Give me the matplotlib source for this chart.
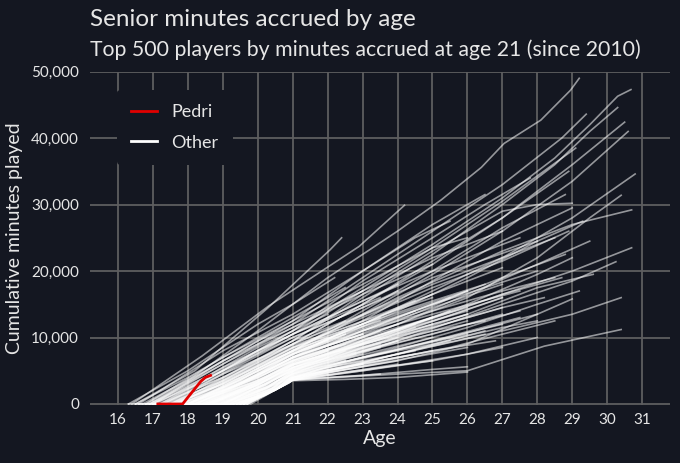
import matplotlib
matplotlib.use("Agg")
import matplotlib.pyplot as plt
from matplotlib.lines import Line2D

# ---------------- data (minutes in thousands) ----------------
pedri_ages = [17.14, 17.85, 18.0, 18.37, 18.5, 18.65]
pedri_minutes_k = [0, 0, 1.0, 3.4, 4.0, 4.3]

other_ages = [
    [16.8, 18, 20, 22, 24, 25.25, 26.4, 27.05, 28.1, 28.95, 29.2],
    [16.5, 18.2, 20.3, 22.07, 22.4],
    [16.4, 18.4, 20.3, 22.9, 24.2],
    [17.2, 19, 21, 23, 25, 27, 28.5, 29.5, 30.3, 30.68],
    [17.5, 19.5, 21, 23, 25, 27, 28.5, 29.5, 30.3],
    [17.3, 19, 21, 23, 25, 27, 29, 30.5],
    [17.8, 19.5, 21, 23, 25, 27, 29, 30.6],
    [18, 21, 23, 25, 27, 29, 30.8],
    [18.3, 21, 24, 26, 28, 29.5, 30.4],
    [17.6, 21, 24, 27, 29, 30.7],
    [18.5, 21, 24, 27, 29, 30.7],
    [19, 21, 24, 27, 29, 30.25],
    [19.2, 21, 24, 27, 29, 30.4],
    [19.6, 21, 24, 26, 28.2, 30.4],
    [17, 19, 21, 23, 25, 27, 28.7, 29.4],
    [17.4, 21, 23, 25, 27, 29.1],
    [17.7, 21, 23, 25, 27, 28.9],
    [17.2, 21, 23, 25, 26.5, 27.8],
    [18, 21, 23, 25, 27, 28.8],
    [16.9, 21, 23, 25, 26.5],
    [17.6, 21, 23, 25, 27, 28, 29],
    [18.2, 21, 23, 25, 27, 29],
    [18.4, 21, 24, 26, 28, 29.3],
    [18.7, 21, 24, 26, 28, 29.5],
    [19, 21, 24, 26, 28, 29.6],
    [19.3, 21, 24, 26, 28, 29.2],
    [19.5, 21, 24, 26, 28, 29],
    [18.9, 21, 24, 26, 28, 29],
    [16.6, 19, 21, 23, 24.5, 25.5],
    [16.8, 19, 21, 23, 25, 26],
    [17, 19, 21, 23, 25, 27],
    [17.1, 19, 21, 23, 25, 27.5],
    [17.3, 19, 21, 23, 25, 28],
    [17.5, 19, 21, 23, 25, 27, 28.5],
    [17.8, 19.5, 21, 23, 25, 27],
    [18, 19.5, 21, 23, 25, 26.5],
    [18.1, 21, 23, 25, 27, 28.5],
    [18.3, 21, 23, 25, 27.5],
    [18.5, 21, 23, 25, 26],
    [18.6, 21, 23, 25, 27, 28.2],
    [18.8, 21, 23, 25, 26.5],
    [19, 21, 23, 25, 27],
    [19.2, 21, 23, 25, 27, 28],
    [19.4, 21, 23, 25, 26.8],
    [19.6, 21, 23, 25, 27],
    [19.7, 21, 22.5, 24, 26],
    [19.5, 21, 23, 25, 26],
    [16.3, 18, 20, 21, 22.2],
    [16.5, 18, 20, 21, 22.5],
    [16.7, 18.5, 20, 21, 23],
    [16.9, 18.5, 20, 21, 22],
    [17, 18.5, 20, 21, 23.5],
    [17.2, 19, 21, 22.5],
    [17.4, 19, 21, 24],
    [17.5, 19, 21, 23],
    [17.6, 19.5, 21, 22],
    [17.8, 19.5, 21, 24.5],
    [17.9, 19.5, 21, 23],
    [18, 20, 21, 22.5],
    [18.1, 20, 21, 25],
    [18.2, 20, 21, 23],
    [18.4, 20, 21, 22],
    [18.5, 20, 21, 24],
    [18.6, 20, 21, 23],
    [18.8, 20.2, 21, 22.5],
    [19, 20.2, 21, 24.5],
    [19.1, 20.3, 21, 23],
    [19.3, 20.4, 21, 22],
    [19.5, 20.5, 21, 25],
    [19.7, 20.6, 21, 23.5],
    [17.3, 19, 21, 23, 24],
    [16.9, 19, 21, 23, 25],
    [17, 19, 21, 24],
    [18.2, 20, 21, 24, 26],
    [18, 20, 21, 25],
    [18.6, 20, 21, 24, 26],
    [19, 21, 23, 25, 27],
    [18.7, 21, 23, 25, 27, 28.7],
    [18.4, 21, 23, 25, 27, 28.8],
    [17.7, 21, 23, 25, 27, 28.9],
    # dense core
    [18.0, 19.6, 21, 23, 24.5],
    [18.2, 19.8, 21, 22.5, 25.5],
    [18.4, 20, 21, 23.5],
    [18.5, 20, 21, 22, 24, 26],
    [18.6, 20.2, 21, 23],
    [18.7, 20.2, 21, 24, 27],
    [18.8, 20.3, 21, 22.5],
    [18.9, 20.3, 21, 23, 25],
    [16.3, 19.0, 20.4, 21, 24],
    [19.1, 20.4, 21, 22, 26],
    [19.2, 20.5, 21, 23.5],
    [16.6, 19.3, 20.5, 21, 25, 27.5],
    [19.4, 20.6, 21, 22.5],
    [19.5, 20.6, 21, 24, 26.5],
    [19.6, 20.7, 21, 23],
    [17.0, 19.7, 20.7, 21, 25],
    [17.3, 19.8, 20.8, 21, 22.2, 24],
    [16.5, 19.7, 20.8, 21, 23, 26, 28],
    [19.5, 20.6, 21, 22.5, 25.5],
    [17.6, 19.3, 20.5, 21, 23, 27],
    [19.0, 20.3, 21, 22, 24.5],
    [18.8, 20.2, 21, 23, 26],
    [18.6, 20, 21, 22.5, 25],
    [18.4, 19.8, 21, 24],
    [18.2, 19.7, 21, 23, 27],
    [18.0, 19.5, 21, 22.5],
    [17.8, 19.5, 21, 24, 26],
    [17.9, 19.6, 21, 23],
    [18.3, 19.9, 21, 22],
    [18.9, 20.1, 21, 23.5, 27.5],
    [19.1, 20.2, 21, 22.8],
    [19.4, 20.5, 21, 24.5],
    [16.8, 19.6, 20.6, 21, 22.5, 26],
    [17.2, 19.2, 20.4, 21, 25.5, 28],
    [18.7, 20, 21, 23, 25.5],
    [18.1, 19.6, 21, 22],
    [17.7, 19.3, 21, 23.5],
    [17.5, 19.2, 21, 22.5, 25],
    [17.9, 19.5, 21, 25, 28],
    [18.5, 19.9, 21, 24.5, 27],
    [17.8, 19.0, 20, 21, 22.5],
    [18.0, 19.2, 20.2, 21, 23],
    [18.3, 19.4, 20.3, 21, 22],
    [18.5, 19.5, 20.4, 21, 24],
    [18.7, 19.7, 20.5, 21, 22.8],
    [18.9, 19.8, 20.6, 21, 25],
    [19.1, 20.0, 20.7, 21, 23],
    [19.3, 20.1, 20.8, 21, 22.5, 26.5],
    [19.5, 20.2, 20.9, 21, 24],
    [19.6, 20.3, 20.9, 21, 22],
    [18.1, 19.3, 20.1, 21, 24.5],
    [18.6, 19.6, 20.4, 21, 23.5],
    [19.0, 19.9, 20.6, 21, 26],
    [19.4, 20.2, 20.8, 21, 25.5, 28.5],
    [17.6, 18.8, 19.8, 21, 23.5],
    [18.2, 19.2, 20.2, 21, 22.3],
]
other_minutes_k = [
    [0, 3.5, 11, 19, 26, 30.7, 35.6, 39.2, 42.7, 47.2, 49.0],
    [0, 5, 14.5, 23.2, 25.0],
    [0, 7.2, 14.7, 23.7, 29.9],
    [0, 5, 11, 17.5, 24, 31, 37, 42, 46.3, 47.3],
    [0, 5, 9.5, 16, 22.5, 30, 36, 41, 44.6],
    [0, 4, 9, 15, 21, 28, 36, 42.4],
    [0, 4, 8, 13.5, 19.5, 26, 33.5, 41.0],
    [0, 7.5, 12, 17, 22, 28, 34.6],
    [0, 6.5, 12, 16, 22, 28, 31.4],
    [0, 8, 16, 23, 27, 29.2],
    [0, 5.5, 11, 16.5, 20, 23.5],
    [0, 4.5, 9.5, 15, 18.5, 21.4],
    [0, 4, 7.5, 11, 13.5, 16],
    [0, 3.6, 4.5, 5, 8.7, 11.2],
    [0, 6, 12, 19, 26, 33, 40, 43.6],
    [0, 10.5, 17, 23.5, 30.5, 38.5],
    [0, 9, 15, 21.5, 28, 35],
    [0, 11, 18.5, 25, 30, 34],
    [0, 8, 14, 20, 26.5, 31.5],
    [0, 12.5, 20, 27, 31.5],
    [0, 9.5, 16.5, 23, 29, 30, 30.2],
    [0, 7, 12.5, 18.5, 24.5, 29.5],
    [0, 7, 14, 19, 24.5, 27.5],
    [0, 6, 12, 16.5, 21, 24.5],
    [0, 5, 10, 13.5, 17.5, 19.5],
    [0, 4.2, 8.5, 11.5, 15, 17],
    [0, 3.8, 6.5, 9, 13.5, 15.8],
    [0, 5.5, 11, 15, 19.5, 22],
    [0, 8, 13.5, 20, 25, 27.5],
    [0, 7, 12.5, 18, 23.5, 25],
    [0, 6.5, 11.5, 17, 22, 26],
    [0, 5.5, 10.5, 15.5, 20, 25],
    [0, 5, 10, 14.5, 19, 24.5],
    [0, 4.5, 9, 13.5, 18, 22, 25],
    [0, 4.5, 8.5, 12.5, 16.5, 20.5],
    [0, 4, 8, 12, 15.5, 18],
    [0, 7.5, 11, 14, 17, 19],
    [0, 7, 10.5, 13.5, 17],
    [0, 6.5, 10, 13, 14.5],
    [0, 6, 9, 11.5, 14.5, 16],
    [0, 5.5, 8.5, 11, 12.5],
    [0, 5, 8, 10.5, 13.5],
    [0, 4.5, 7, 9, 11.5, 12.5],
    [0, 4, 6, 8, 9.5],
    [0, 3.6, 5, 6.5, 8.5],
    [0, 3.5, 3.7, 4.0, 4.8],
    [0, 3.7, 4.3, 5.2, 5.6],
    [0, 5, 12, 15, 19],
    [0, 4, 10, 13, 17.5],
    [0, 5, 9.5, 12, 17],
    [0, 4, 8.5, 11, 13.5],
    [0, 3.5, 8, 10.5, 16],
    [0, 4, 9.5, 12.5],
    [0, 3.5, 9, 15.5],
    [0, 3, 8.5, 12],
    [0, 4, 8, 10],
    [0, 3.5, 7.5, 14],
    [0, 3, 7, 10.5],
    [0, 4, 6.5, 9],
    [0, 3.5, 6.2, 13],
    [0, 3.5, 6, 9],
    [0, 3, 5.5, 7],
    [0, 2.8, 5.3, 9.5],
    [0, 2.5, 5, 7.5],
    [0, 2.5, 4.8, 6.5],
    [0, 2.2, 4.5, 8],
    [0, 2, 4.3, 6],
    [0, 2, 4, 5],
    [0, 2.1, 3.8, 6.5],
    [0, 2.4, 3.6, 4.5],
    [0, 4.5, 10, 14.5, 17],
    [0, 6, 11.5, 16.5, 21],
    [0, 5, 10.5, 18],
    [0, 4.2, 7, 12.5, 17],
    [0, 4.5, 7.5, 16.5],
    [0, 3, 5.8, 10.5, 13.5],
    [0, 5.2, 9, 12.5, 16],
    [0, 5.8, 9.5, 13, 16.5, 19],
    [0, 6.5, 11, 15, 19, 22.5],
    [0, 8.5, 13, 17.5, 21.5, 26],
    # dense core
    [0, 3.5, 7.5, 12, 15.5],
    [0, 3.2, 6.8, 10, 16],
    [0, 3.2, 6.2, 11],
    [0, 2.8, 5.8, 7.5, 11, 14],
    [0, 3, 5.5, 9.5],
    [0, 2.8, 5.3, 10, 14.5],
    [0, 2.6, 5, 8],
    [0, 2.5, 4.9, 8.5, 12],
    [0, 0, 2.4, 4.7, 9.5],
    [0, 2.2, 4.5, 6.5, 12.5],
    [0, 2.1, 4.3, 8.5],
    [0, 0, 2.1, 4.1, 9.5, 13],
    [0, 2.4, 3.9, 6.5],
    [0, 2.4, 3.8, 7.5, 10.5],
    [0, 2.7, 3.7, 6],
    [0, 0, 2.7, 3.6, 8],
    [0, 0, 3.0, 3.6, 4.5, 6],
    [0, 0, 3.0, 3.6, 5, 7.5, 10],
    [0, 2.4, 3.8, 5.5, 9.5],
    [0, 0, 2.1, 4, 7, 12],
    [0, 2.6, 5, 7, 11.5],
    [0, 2.8, 5.4, 9, 13.5],
    [0, 3, 6, 8.5, 13],
    [0, 3, 6.5, 12],
    [0, 3.4, 7, 11, 18],
    [0, 3.6, 7.8, 10.5],
    [0, 3.8, 8, 13.5, 17],
    [0, 3.4, 7.2, 10.5],
    [0, 3, 6.3, 8],
    [0, 2.5, 5.2, 8.5, 14],
    [0, 2.3, 4.8, 7.5],
    [0, 2.1, 4.2, 7.5],
    [0, 0, 2.4, 3.9, 5.2, 8.5],
    [0, 0, 2.3, 4.6, 10, 13.5],
    [0, 2.8, 5.9, 9.5, 14],
    [0, 3.4, 7.4, 9.5],
    [0, 3.8, 8.4, 13],
    [0, 4, 8.8, 11.5, 16],
    [0, 3.6, 7.8, 15, 20],
    [0, 3, 6, 11.5, 16],
    [0, 2.5, 5, 7.6, 10.5],
    [0, 2.4, 4.8, 7, 10.5],
    [0, 2.2, 4.3, 6.3, 8],
    [0, 2, 4, 5.8, 10],
    [0, 1.8, 3.6, 5.2, 7.8],
    [0, 1.6, 3.3, 4.8, 10],
    [0, 1.5, 3, 4.4, 6.5],
    [0, 1.3, 3.0, 4, 5.5, 11],
    [0, 1.3, 3.2, 3.8, 6.5],
    [0, 1.6, 3.2, 3.7, 4.5],
    [0, 2.6, 4.6, 6.6, 12],
    [0, 2, 3.8, 5.5, 9],
    [0, 1.6, 3.2, 4.6, 10.5],
    [0, 1.3, 3.0, 4, 8.5, 12.5],
    [0, 2.6, 5, 8.2, 12.5],
    [0, 2.2, 4.5, 6.8, 8.8],
]

x_ticks = list(range(16, 32))
y_ticks = [0, 10000, 20000, 30000, 40000, 50000]
y_tick_labels = ["0", "10,000", "20,000", "30,000", "40,000", "50,000"]

title = "Senior minutes accrued by age"
subtitle = "Top 500 players by minutes accrued at age 21 (since 2010)"

# ---------------- style ----------------
BG = "#141721"
GRID = "#5e5e60"
TXT = "#e6e6e6"
plt.rcParams["font.family"] = ["Lato", "DejaVu Sans"]

fig = plt.figure(figsize=(6.8, 4.63), dpi=100, facecolor=BG)
ax = fig.add_axes([0.1324, 0.1253, 0.853, 0.720])
ax.set_facecolor(BG)

for ages, mins in zip(other_ages, other_minutes_k):
    ax.plot(ages, [m * 1000 for m in mins], color="white", alpha=0.55,
            lw=1.2, solid_joinstyle="round", zorder=3)

ax.plot(pedri_ages, [m * 1000 for m in pedri_minutes_k], color="#e00000",
        lw=2.0, zorder=5)

ax.set_xlim(15.2, 31.8)
ax.set_ylim(-150, 50000)
ax.set_xticks(x_ticks)
ax.set_yticks(y_ticks)
ax.set_yticklabels(y_tick_labels)
ax.grid(True, color=GRID, lw=1.3, zorder=0)
ax.set_axisbelow(True)
for s in ax.spines.values():
    s.set_visible(False)
ax.tick_params(length=0, colors=TXT, labelsize=11, pad=6)
ax.tick_params(axis="y", pad=8)

ax.set_xlabel("Age", color=TXT, fontsize=14, labelpad=2)
ax.set_ylabel("Cumulative minutes played", color=TXT, fontsize=14, labelpad=6)

fig.text(90 / 680, 1 - 20 / 463, title, color=TXT, fontsize=17.5, va="center", ha="left")
fig.text(90 / 680, 1 - 50 / 463, subtitle, color=TXT, fontsize=15.3, va="center", ha="left")

handles = [Line2D([0], [0], color="#e00000", lw=2),
           Line2D([0], [0], color="white", lw=2)]
leg = ax.legend(handles, ["Pedri", "Other"], loc="upper left",
                bbox_to_anchor=(0.031, 0.973), fontsize=13, frameon=True,
                facecolor=BG, edgecolor=BG, framealpha=1, labelcolor=TXT,
                handlelength=1.4, handletextpad=0.8, labelspacing=0.8,
                borderpad=0.8)
leg.get_frame().set_linewidth(0)
leg.set_zorder(10)

fig.savefig("out.png", dpi=100, facecolor=BG)
